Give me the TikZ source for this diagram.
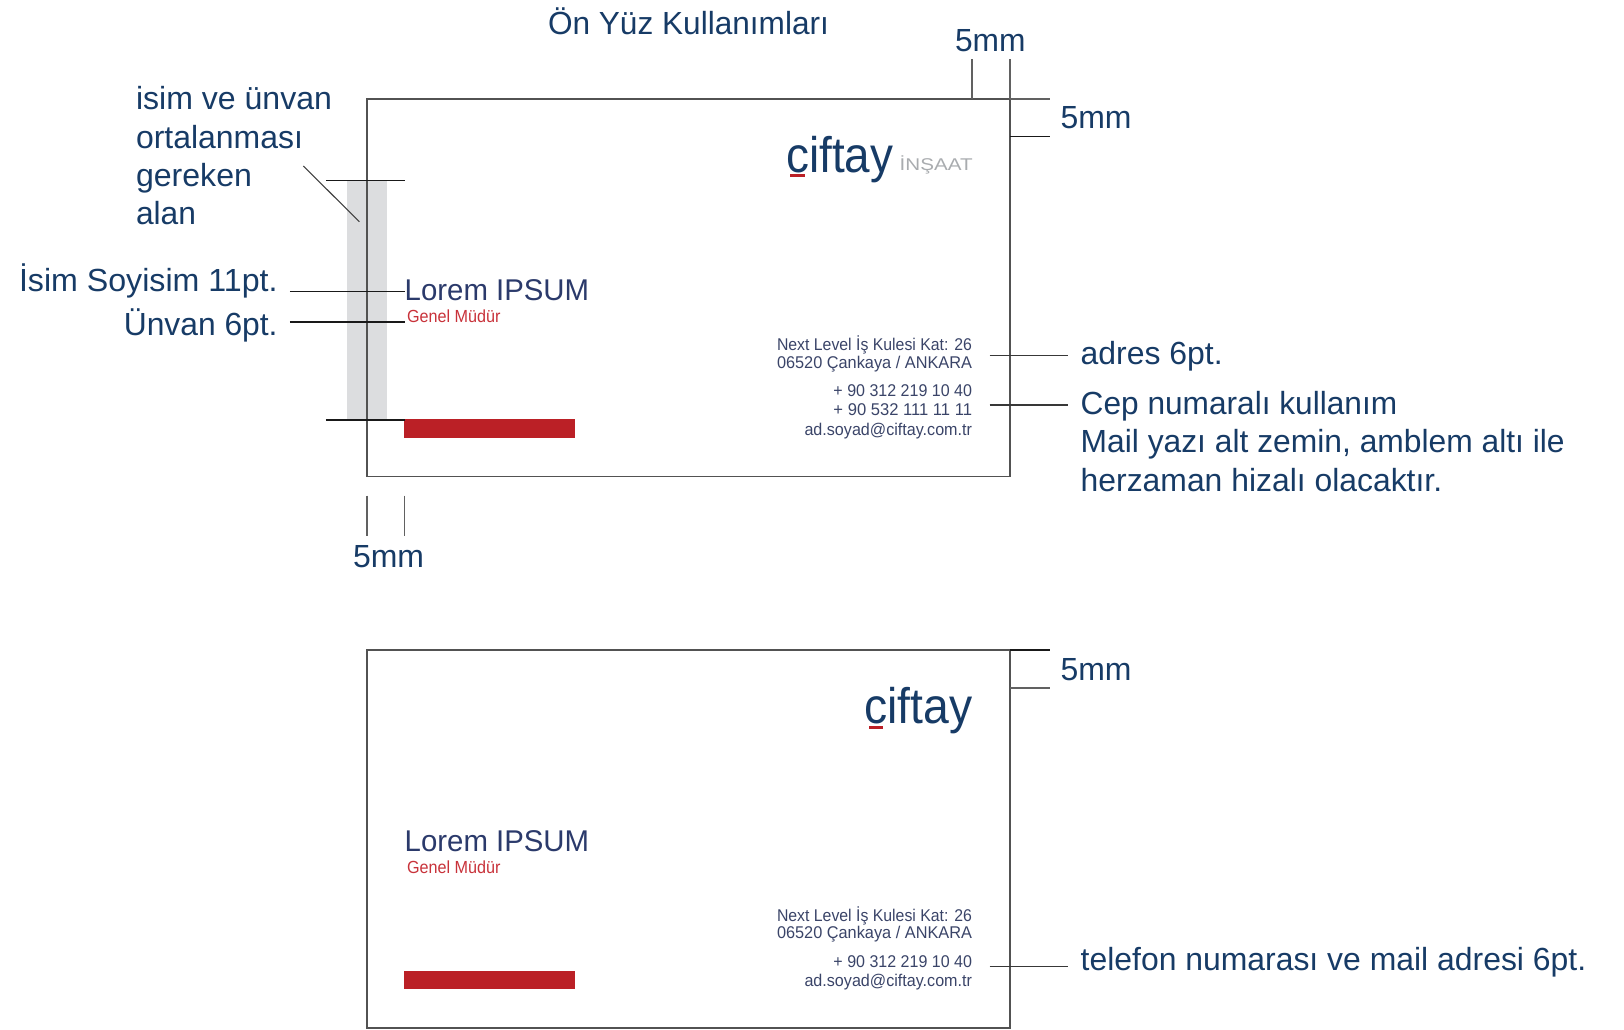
\documentclass[tikz,border=0pt]{standalone}
\usepackage{graphicx}
\usepackage{fontspec}
\setmainfont{Liberation Sans}
\definecolor{navy}{HTML}{173B66}
\definecolor{ink}{HTML}{3A4468}
\definecolor{loremc}{HTML}{2B3A6B}
\definecolor{redt}{HTML}{C8323A}
\definecolor{redbar}{HTML}{BB2026}
\definecolor{band}{HTML}{DCDDDF}
\definecolor{insc}{HTML}{A9ACAF}
\newcommand{\fit}[2]{\resizebox{#1pt}{\height}{#2}}
\tikzset{
  x=1pt,y=-1pt,
  lab/.style={anchor=base west,inner sep=0pt,outer sep=0pt,text=navy,yshift=-0.8pt,font=\fontsize{32}{32}\selectfont},
  labr/.style={lab,anchor=base east},
  lorem/.style={lab,text=loremc,font=\fontsize{30}{30}\selectfont},
  genel/.style={lab,text=redt,font=\fontsize{17.5}{17.5}\selectfont},
  addr/.style={labr,text=ink,font=\fontsize{17}{17}\selectfont},
  logo/.style={lab,yshift=-1pt,font=\fontsize{50}{50}\selectfont},
  insaat/.style={lab,text=insc,font=\fontsize{17}{17}\selectfont},
  cardline/.style={draw=black!68,line width=1.5pt},
  tick/.style={draw=black!62,line width=1.6pt},
  hline/.style={draw=black!90,line width=1.5pt},
  leader/.style={draw=black!78,line width=1.5pt},
}
\begin{document}
\begin{tikzpicture}
\useasboundingbox (0,0) rectangle (1624,1030);
% named points
\coordinate (c1tl) at (367,98.9);
\coordinate (c1br) at (1010,476.3);
\coordinate (c2tl) at (367,650);
\coordinate (c2br) at (1010,1027.9);

% grey band and red bars
\fill[band] (347.2,180.7) rectangle (386.7,420);
\fill[redbar] (404.2,419.2) rectangle (575,438);
\fill[redbar] (404.2,970.5) rectangle (575,989.2);

% cards
\draw[cardline] (c1tl) rectangle (c1br);
\draw[cardline] (c2tl) rectangle (c2br);

% top-right dimension marks, card 1
\coordinate (t1a) at (971.7,59.3); \coordinate (t1b) at (971.7,98.9);
\coordinate (t2a) at (1010,59.3); \coordinate (t2b) at (1010,98.9);
\coordinate (t3a) at (1010,98.9); \coordinate (t3b) at (1050,98.9);
\coordinate (t4a) at (1010,136.3); \coordinate (t4b) at (1050,136.3);
\draw[tick] (t1a) -- (t1b);
\draw[tick] (t2a) -- (t2b);
\draw[tick] (t3a) -- (t3b);
\draw[hline] (t4a) -- (t4b);

% top-right dimension marks, card 2
\coordinate (u3a) at (1010,650); \coordinate (u3b) at (1050,650);
\coordinate (u4a) at (1010,688); \coordinate (u4b) at (1050,688);
\draw[hline] (u3a) -- (u3b);
\draw[tick] (u4a) -- (u4b);

% left guides
\coordinate (g1a) at (325.9,180.7); \coordinate (g1b) at (404.5,180.7);
\coordinate (g2a) at (325.9,420); \coordinate (g2b) at (404.5,420);
\coordinate (g3a) at (289.9,291.7); \coordinate (g3b) at (405.2,291.7);
\coordinate (g4a) at (289.9,322); \coordinate (g4b) at (405.2,322);
\coordinate (g5a) at (303.3,166); \coordinate (g5b) at (359.4,221.7);
\draw[hline] (g1a) -- (g1b);
\draw[hline] (g2a) -- (g2b);
\draw[hline] (g3a) -- (g3b);
\draw[hline] (g4a) -- (g4b);
\draw[draw=black!75,line width=1.1pt] (g5a) -- (g5b);

% bottom ticks
\coordinate (b1a) at (367,495.5); \coordinate (b1b) at (367,535.5);
\coordinate (b2a) at (404.5,495.5); \coordinate (b2b) at (404.5,535.5);
\draw[tick] (b1a) -- (b1b);
\draw[tick] (b2a) -- (b2b);

% leaders
\coordinate (l1a) at (989.5,355.7); \coordinate (l1b) at (1067.5,355.7);
\coordinate (l2a) at (989.5,405); \coordinate (l2b) at (1067.5,405);
\coordinate (l3a) at (989.5,966.6); \coordinate (l3b) at (1068,966.6);
\draw[leader] (l1a) -- (l1b);
\draw[leader] (l2a) -- (l2b);
\draw[leader] (l3a) -- (l3b);

% title and annotations
\node[lab] (title) at (548,33.3) {\fit{281}{Ön Yüz Kullanımları}};
\node[lab] (d1) at (955,50.7) {\fit{70.5}{5mm}};
\node[lab] (d2) at (1060.5,127.7) {\fit{71}{5mm}};
\node[lab] (d3) at (353,566.7) {\fit{71}{5mm}};
\node[lab] (d4) at (1060.5,679.4) {\fit{71}{5mm}};
\node[lab] (a1) at (136,109) {\fit{196}{isim ve ünvan}};
\node[lab] (a2) at (136,147.3) {\fit{167}{ortalanması}};
\node[lab] (a3) at (136,185.7) {\fit{116}{gereken}};
\node[lab] (a4) at (136,223.7) {\fit{60}{alan}};
\node[labr] (a5) at (277.6,290.7) {\fit{258.6}{İsim Soyisim 11pt.}};
\node[labr] (a6) at (277.6,334.3) {\fit{153.8}{Ünvan 6pt.}};
\node[lab] (a7) at (1080.7,364) {\fit{142}{adres 6pt.}};
\node[lab] (a8) at (1080.7,413.3) {\fit{316.5}{Cep numaralı kullanım}};
\node[lab] (a9) at (1080.7,452) {\fit{484}{Mail yazı alt zemin, amblem altı ile}};
\node[lab] (a10) at (1080.7,490.7) {\fit{361.5}{herzaman hizalı olacaktır.}};
\node[lab] (a11) at (1080.7,969.7) {\fit{505.5}{telefon numarası ve mail adresi 6pt.}};

% card 1 content
\node[logo] (logo1) at (786.2,170.3) {\fit{107}{ciftay}};
\fill[redbar] (790,174) rectangle (804.7,177.4);
\node[insaat] (ins) at (899.7,169.5) {\fit{73}{İNŞAAT}};
\node[lorem] (lo1) at (404.7,299.3) {\fit{184.5}{Lorem IPSUM}};
\node[genel] (ge1) at (407,321.7) {\fit{93.5}{Genel Müdür}};
\node[addr] (ad1) at (972,349.7) {\fit{195}{Next Level İş Kulesi Kat: 26}};
\node[addr] (ad2) at (972,367.6) {\fit{195}{06520 Çankaya / ANKARA}};
\node[addr] (ad3) at (972,396) {\fit{138.5}{+ 90 312 219 10 40}};
\node[addr] (ad4) at (972,415) {\fit{138.5}{+ 90 532 111 11 11}};
\node[addr] (ad5) at (972,434.6) {\fit{167.5}{ad.soyad@ciftay.com.tr}};

% card 2 content
\node[logo] (logo2) at (864.2,722) {\fit{108}{ciftay}};
\fill[redbar] (869,725.7) rectangle (883.4,729);
\node[lorem] (lo2) at (404.7,850.6) {\fit{184.5}{Lorem IPSUM}};
\node[genel] (ge2) at (407,873) {\fit{93.5}{Genel Müdür}};
\node[addr] (bd1) at (972,920.3) {\fit{195}{Next Level İş Kulesi Kat: 26}};
\node[addr] (bd2) at (972,938) {\fit{195}{06520 Çankaya / ANKARA}};
\node[addr] (bd3) at (972,966.2) {\fit{138.5}{+ 90 312 219 10 40}};
\node[addr] (bd5) at (972,986) {\fit{167.5}{ad.soyad@ciftay.com.tr}};
\end{tikzpicture}
\end{document}
